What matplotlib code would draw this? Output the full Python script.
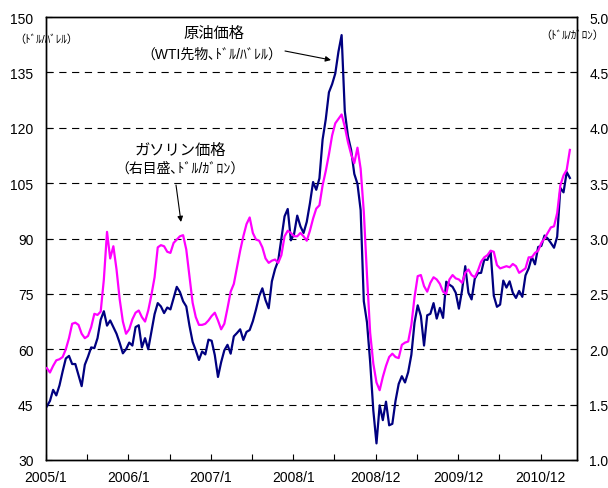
import numpy as np
import matplotlib
matplotlib.use("Agg")
import matplotlib.pyplot as plt

plt.rcParams['font.family'] = ['Liberation Sans', 'Noto Sans CJK JP', 'DejaVu Sans']

# Biweekly samples, starting with the first week of 2005
wti = [
    44.5, 46.0, 49.0, 47.5, 50.2, 54.0, 57.5, 58.2, 56.0, 56.0,
    53.0, 50.0, 55.8, 58.0, 60.5, 60.3, 63.0, 68.0, 70.3, 66.4,
    67.8, 66.0, 64.2, 61.7, 58.9, 60.0, 61.8, 61.0, 66.0, 66.5,
    60.5, 63.0, 60.0, 64.7, 69.5, 72.5, 71.6, 69.8, 71.3, 70.8,
    73.9, 76.9, 75.5, 73.0, 71.6, 66.4, 62.0, 59.7, 57.1, 59.4,
    58.6, 62.6, 62.3, 58.4, 52.5, 56.5, 59.7, 61.2, 58.8, 63.5,
    64.4, 65.4, 62.5, 64.7, 65.2, 67.6, 70.8, 74.4, 76.5, 73.3,
    71.1, 78.4, 81.7, 84.0, 90.0, 96.0, 98.0, 89.5, 91.2, 96.2,
    93.3, 91.5, 94.5, 99.5, 105.3, 103.2, 106.3, 116.8, 122.3, 129.6,
    131.8, 134.7, 140.6, 145.1, 124.5, 117.7, 114.0, 107.5, 104.8, 97.7,
    73.0, 67.3, 56.6, 43.4, 34.5, 44.8, 40.8, 45.8, 39.4, 39.8,
    46.0, 50.6, 52.7, 51.0, 53.8, 58.5, 67.2, 71.9, 69.0, 61.0,
    69.2, 69.6, 72.5, 68.3, 71.2, 68.5, 78.3, 77.5, 76.9, 75.3,
    71.0, 76.0, 82.5, 75.3, 73.5, 79.1, 80.6, 80.7, 84.3, 84.2,
    86.5, 74.5, 71.5, 72.1, 78.6, 76.7, 78.4, 75.3, 73.9, 75.8,
    74.2, 80.0, 81.9, 85.0, 83.0, 87.7, 88.0, 90.8, 90.0, 88.8,
    87.5, 90.5, 103.7, 102.5, 108.0, 106.4,
]

gasoline = [
    1.83, 1.79, 1.85, 1.90, 1.91, 1.93, 2.00, 2.10, 2.23, 2.24,
    2.22, 2.14, 2.10, 2.12, 2.20, 2.32, 2.31, 2.34, 2.63, 3.06,
    2.82, 2.93, 2.72, 2.45, 2.25, 2.14, 2.18, 2.27, 2.33, 2.35,
    2.29, 2.25, 2.35, 2.49, 2.65, 2.92, 2.94, 2.93, 2.88, 2.87,
    2.96, 2.99, 3.02, 3.03, 2.90, 2.66, 2.42, 2.29, 2.22, 2.22,
    2.23, 2.26, 2.30, 2.33, 2.26, 2.18, 2.23, 2.37, 2.52, 2.59,
    2.74, 2.89, 3.02, 3.13, 3.19, 3.05, 2.99, 2.98, 2.92, 2.82,
    2.78, 2.80, 2.81, 2.78, 2.85, 3.02, 3.07, 3.05, 3.02, 3.02,
    3.05, 3.02, 2.98, 3.07, 3.18, 3.27, 3.30, 3.48, 3.61, 3.76,
    3.93, 4.04, 4.08, 4.12, 4.01, 3.87, 3.76, 3.68, 3.82, 3.63,
    3.24, 2.67, 2.15, 1.87, 1.70, 1.63, 1.75, 1.85, 1.93, 1.96,
    1.93, 1.92, 2.04, 2.06, 2.07, 2.22, 2.47, 2.66, 2.67, 2.57,
    2.52, 2.60, 2.65, 2.63, 2.59, 2.52, 2.50, 2.63, 2.67, 2.64,
    2.63, 2.60, 2.69, 2.72, 2.67, 2.65, 2.71, 2.79, 2.83, 2.85,
    2.89, 2.88, 2.76, 2.73, 2.74, 2.75, 2.74, 2.77, 2.75, 2.69,
    2.71, 2.73, 2.83, 2.83, 2.87, 2.89, 2.96, 3.00, 3.05, 3.10,
    3.11, 3.23, 3.48, 3.57, 3.62, 3.80,
]

x_labels = ['2005/1', '2006/1', '2007/1', '2008/1', '2008/12', '2009/12', '2010/12']
left_ticks = [30, 45, 60, 75, 90, 105, 120, 135, 150]
right_ticks = [1.0, 1.5, 2.0, 2.5, 3.0, 3.5, 4.0, 4.5, 5.0]

WEEK_STEP = 2        # samples are every two weeks
N_WEEKS = 335        # number of weekly categories on the axis
TICK_EVERY = 26      # tick every half year (26 weeks)

W, H = 608, 489
def fx(px):
    return px / W
def fy(py):
    return 1 - py / H

fig = plt.figure(figsize=(W / 100, H / 100), dpi=100)
ax = fig.add_axes([fx(46), fy(461), (577 - 46) / W, (461 - 18) / H])
ax2 = ax.twinx()

weeks = np.arange(len(wti)) * WEEK_STEP
ax.plot(weeks, wti, color='#000080', lw=1.6, zorder=3)
ax2.plot(weeks, gasoline, color='#FF00FF', lw=1.6, zorder=3)

ax.set_xlim(-0.5, N_WEEKS - 0.5)
ax.set_ylim(30, 150)
ax2.set_ylim(1.0, 5.0)

# horizontal dashed grid
for v in left_ticks[1:-1]:
    ax.axhline(v, color='black', lw=0.8, dashes=(6.5, 5), zorder=1)

ax.set_yticks(left_ticks)
ax.set_yticklabels([str(v) for v in left_ticks])
ax2.set_yticks(right_ticks)
ax2.set_yticklabels([f'{v:.1f}' for v in right_ticks])

xt = np.arange(-0.5, N_WEEKS, TICK_EVERY)
ax.set_xticks(xt)
labs = []
for i in range(len(xt)):
    if i % 2 == 0 and i // 2 < len(x_labels):
        labs.append(x_labels[i // 2])
    else:
        labs.append('')
ax.set_xticklabels(labs)

ax.tick_params(axis='both', direction='in', length=4, width=0.8, labelsize=10, colors='black')
ax.tick_params(axis='y', pad=9)
ax.tick_params(axis='x', pad=7)
ax2.tick_params(axis='y', direction='in', length=4, width=0.8, labelsize=10, pad=9)

for a in (ax, ax2):
    for s in a.spines.values():
        s.set_linewidth(1.0)
        s.set_color('black')

# unit labels
fig.text(fx(46), fy(40), '（ﾄﾞﾙ/ﾊﾞﾚﾙ）', ha='center', va='center', fontsize=8)
fig.text(fx(572), fy(36), '（ﾄﾞﾙ/ｶﾞﾛﾝ）', ha='center', va='center', fontsize=8)

# annotations
fig.text(fx(214), fy(34), '原油価格', ha='center', va='center', fontsize=11)
fig.text(fx(212), fy(55), '（WTI先物､ﾄﾞﾙ/ﾊﾞﾚﾙ）', ha='center', va='center', fontsize=10)
ax.annotate('', xy=(fx(331), fy(61)), xycoords='figure fraction',
            xytext=(fx(285), fy(52)), textcoords='figure fraction',
            arrowprops=dict(arrowstyle='-|>', color='black', lw=0.8,
                            mutation_scale=8, shrinkA=0, shrinkB=0))

fig.text(fx(180), fy(151), 'ガソリン価格', ha='center', va='center', fontsize=11)
fig.text(fx(180), fy(169), '（右目盛､ﾄﾞﾙ/ｶﾞﾛﾝ）', ha='center', va='center', fontsize=10)
ax.annotate('', xy=(fx(181), fy(223)), xycoords='figure fraction',
            xytext=(fx(176), fy(186)), textcoords='figure fraction',
            arrowprops=dict(arrowstyle='-|>', color='black', lw=0.8,
                            mutation_scale=8, shrinkA=0, shrinkB=0))

fig.savefig('out.png', dpi=100)
